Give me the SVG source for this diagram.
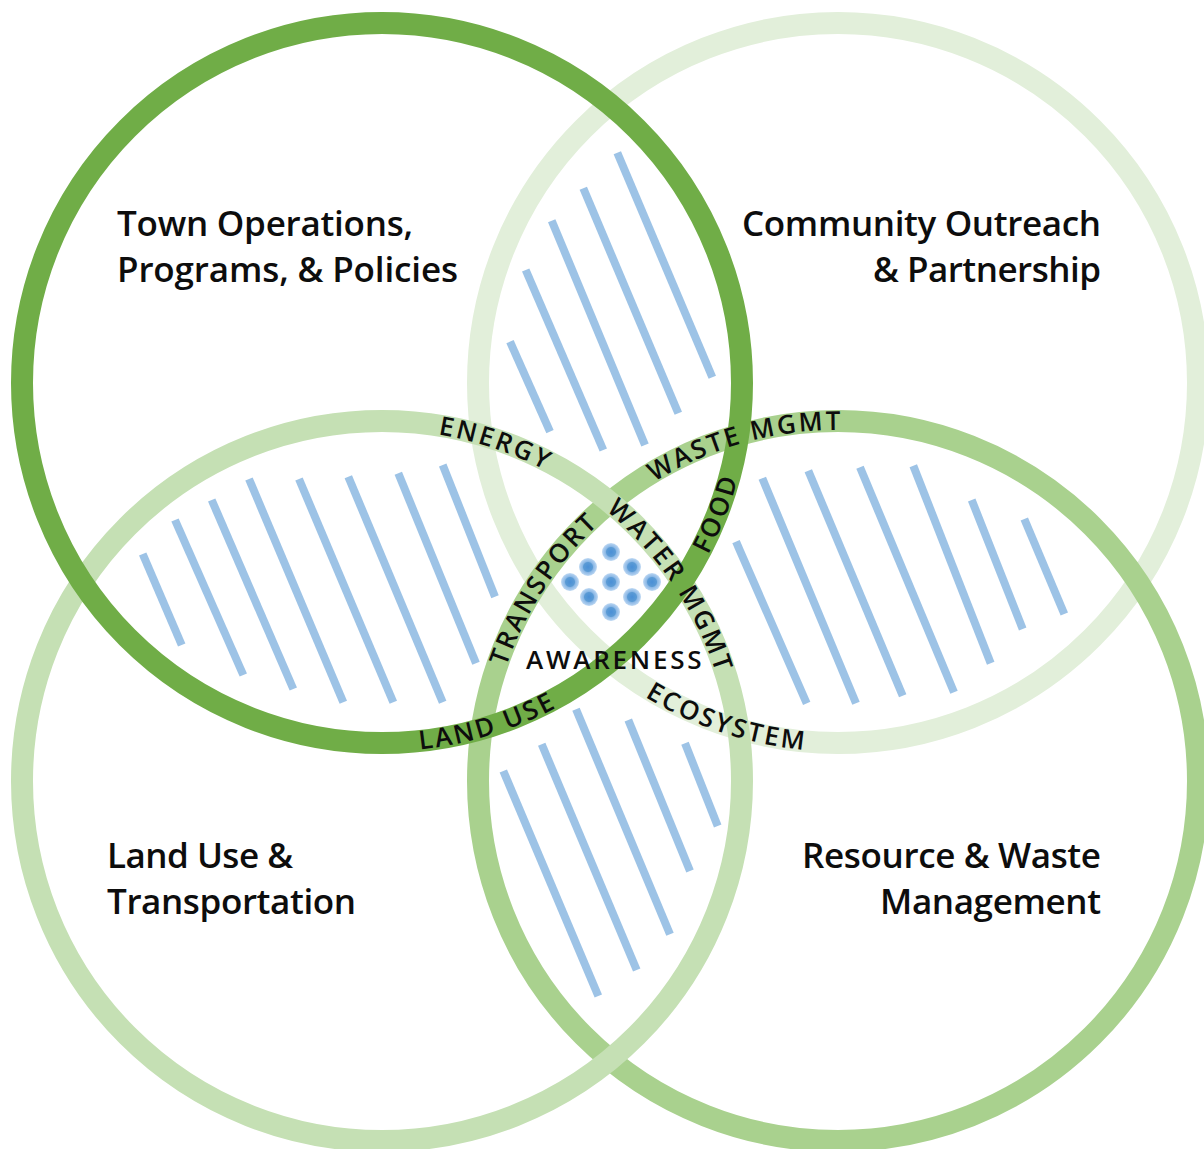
<svg xmlns="http://www.w3.org/2000/svg" width="1204" height="1149" viewBox="0 0 1204 1149">
<defs>
<style>
.ring{fill:none;stroke-width:22}
.title{font-family:"Open Sans","DejaVu Sans",sans-serif;font-weight:600;font-size:35px;fill:#0d0d0d}
.lbl{font-family:"Open Sans","DejaVu Sans",sans-serif;font-weight:600;font-size:26px;fill:#0d0d0d;letter-spacing:2.5px}
.hatch line{stroke:#9DC3E6;stroke-width:8;stroke-linecap:butt}
</style>
<radialGradient id="dotg">
<stop offset="0" stop-color="#4A8FD6"/>
<stop offset="0.5" stop-color="#5B9BD5"/>
<stop offset="0.62" stop-color="#8DB9E6"/>
<stop offset="0.85" stop-color="#A9CBEE"/>
<stop offset="1" stop-color="#C3DBF3"/>
</radialGradient>
<path id="pEnergy" d="M312.6,436.9 A351,351 0 0 1 645.3,548.9"/>
<path id="pWaste" d="M588.1,534.5 A351,351 0 0 1 926.5,441.3"/>
<path id="pTransport" d="M487.5,762 A351,351 0 0 1 679.2,468"/>
<path id="pFood" d="M612.4,670.6 A369,369 0 0 0 746.3,327.3"/>
<path id="pWater" d="M535.9,465.5 A351,351 0 0 1 732.1,756.5"/>
<path id="pLand" d="M300.4,742.3 A369,369 0 0 0 652.4,633.4"/>
<path id="pEco" d="M562.9,628.1 A369,369 0 0 0 912.7,743.8"/>
</defs>
<rect x="0" y="0" width="1204" height="1149" fill="#ffffff"/>

<g id="hatching" class="hatch">
<line x1="510" y1="341.7" x2="550" y2="431.7"/>
<line x1="525.7" y1="270" x2="603.3" y2="450"/>
<line x1="551.7" y1="220.7" x2="645" y2="445"/>
<line x1="583.3" y1="188.3" x2="678.3" y2="413.3"/>
<line x1="617.3" y1="152.7" x2="712.3" y2="377.3"/>

<line x1="142.7" y1="554" x2="181.7" y2="645"/>
<line x1="175" y1="520" x2="243.3" y2="675"/>
<line x1="211.7" y1="500" x2="293.3" y2="689"/>
<line x1="249" y1="479" x2="343.3" y2="702.3"/>
<line x1="299" y1="479" x2="393.3" y2="702.3"/>
<line x1="348.3" y1="476.7" x2="442.7" y2="702.3"/>
<line x1="398.3" y1="473.3" x2="476" y2="663.3"/>
<line x1="442.7" y1="465" x2="495" y2="596.7"/>

<line x1="736" y1="541.7" x2="806.7" y2="703.3"/>
<line x1="762.3" y1="478.3" x2="856" y2="703.3"/>
<line x1="808.3" y1="470.7" x2="902.7" y2="695.7"/>
<line x1="860" y1="467.3" x2="954" y2="692.3"/>
<line x1="913.3" y1="465.7" x2="990.7" y2="663.3"/>
<line x1="971.7" y1="500" x2="1022.7" y2="629"/>
<line x1="1024.3" y1="519" x2="1064.3" y2="614"/>

<line x1="503.3" y1="771" x2="598.3" y2="996"/>
<line x1="541.7" y1="744.3" x2="636.7" y2="970"/>
<line x1="576" y1="709.3" x2="670" y2="934.3"/>
<line x1="628.3" y1="720" x2="690" y2="871"/>
<line x1="685" y1="743.3" x2="717.7" y2="826"/>
</g>

<g id="dots" fill="url(#dotg)">
<circle cx="611" cy="552" r="9"/>
<circle cx="588" cy="567" r="9"/>
<circle cx="632" cy="567" r="9"/>
<circle cx="570" cy="582" r="9"/>
<circle cx="611" cy="582" r="9"/>
<circle cx="652" cy="582" r="9"/>
<circle cx="589" cy="597" r="9"/>
<circle cx="632" cy="597" r="9"/>
<circle cx="611" cy="612" r="9"/>
</g>

<g id="node-community">
<circle class="ring" cx="838" cy="383" r="360" stroke="#E2EFDA"/>
<text class="title" text-anchor="end"><tspan x="1101" y="236" textLength="359">Community Outreach</tspan><tspan x="1101" y="282" textLength="228">&amp; Partnership</tspan></text>
</g>

<g id="node-resource">
<circle class="ring" cx="838" cy="781" r="360" stroke="#A9D18E"/>
<text class="title" text-anchor="end"><tspan x="1101" y="868" textLength="299">Resource &amp; Waste</tspan><tspan x="1101" y="914" textLength="221">Management</tspan></text>
</g>

<g id="node-landuse">
<circle class="ring" cx="382" cy="781" r="360" stroke="#C5E0B4"/>
<text class="title"><tspan x="107" y="868" textLength="186">Land Use &amp;</tspan><tspan x="107" y="914" textLength="249">Transportation</tspan></text>
</g>

<g id="node-town">
<circle class="ring" cx="382" cy="383" r="360" stroke="#70AD47"/>
<text class="title"><tspan x="117" y="236" textLength="296">Town Operations,</tspan><tspan x="117" y="282" textLength="341">Programs, &amp; Policies</tspan></text>
</g>

<g id="connectors">
<text class="lbl" text-anchor="middle"><textPath href="#pEnergy" startOffset="50%">ENERGY</textPath></text>
<text class="lbl" text-anchor="middle"><textPath href="#pWaste" startOffset="50%">WASTE MGMT</textPath></text>
<text class="lbl" text-anchor="middle"><textPath href="#pTransport" startOffset="50%">TRANSPORT</textPath></text>
<text class="lbl" text-anchor="middle"><textPath href="#pFood" startOffset="50%">FOOD</textPath></text>
<text class="lbl" text-anchor="middle"><textPath href="#pWater" startOffset="50%">WATER MGMT</textPath></text>
<text class="lbl" text-anchor="middle"><textPath href="#pLand" startOffset="50%">LAND USE</textPath></text>
<text class="lbl" text-anchor="middle"><textPath href="#pEco" startOffset="50%">ECOSYSTEM</textPath></text>
<text class="lbl" x="615" y="669" text-anchor="middle" textLength="178">AWARENESS</text>
</g>
</svg>
